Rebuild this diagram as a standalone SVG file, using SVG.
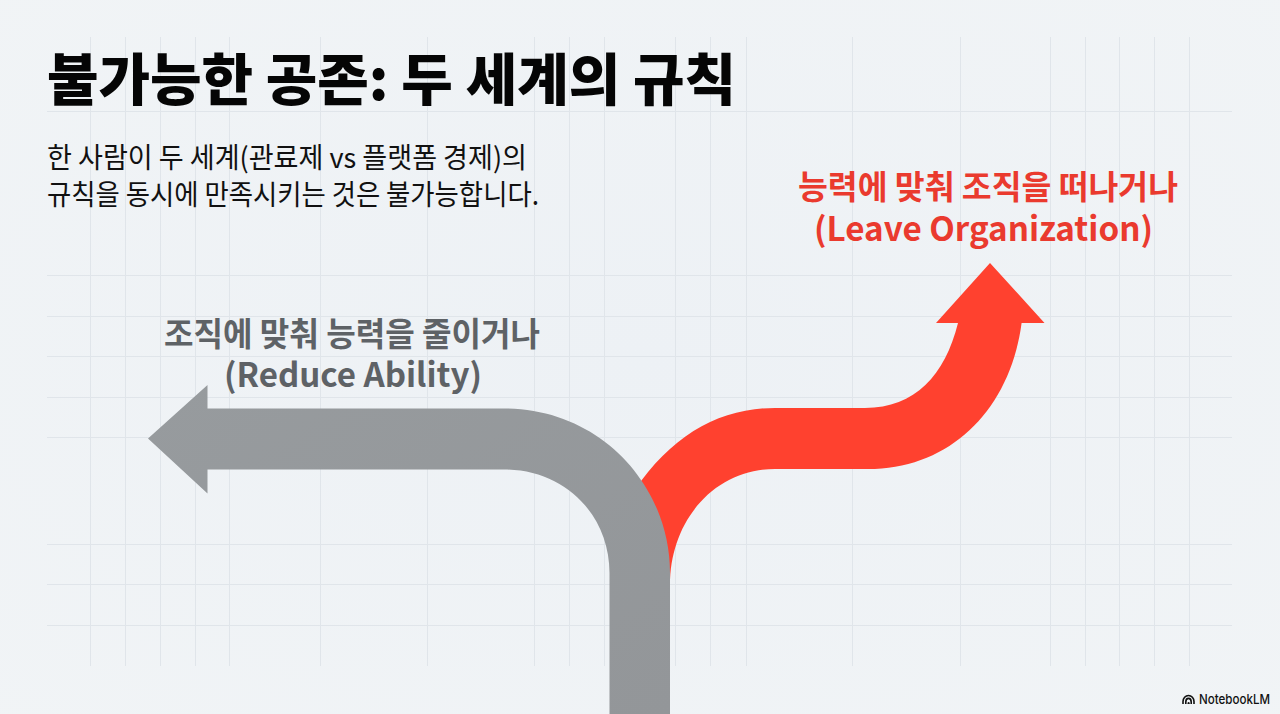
<svg xmlns="http://www.w3.org/2000/svg" width="1280" height="714" viewBox="0 0 1280 714">
<style>
.k{font-family:"Noto Sans CJK KR","Noto Sans",sans-serif}
.t{font-size:56px;font-weight:900;fill:#050505}
.s{font-size:28px;font-weight:400;fill:#111}
.l{font-size:33px;font-weight:700;text-anchor:middle}
.g{stroke:#e0e5ea;stroke-width:1;fill:none}
</style>
<defs>
<radialGradient id="bg" cx="50%" cy="50%" r="75%"><stop offset="0" stop-color="#edf1f5"/><stop offset="1" stop-color="#f1f4f6"/></radialGradient>
<linearGradient id="gr" x1="0" y1="0" x2="1" y2="1"><stop offset="0" stop-color="#979b9e"/><stop offset="1" stop-color="#939699"/></linearGradient>
</defs>
<rect width="1280" height="714" fill="url(#bg)"/>
<g id="grid" class="g">
<path d="M47 111.500H1232M47 275.500H1232M47 316.500H1232M47 356.500H1232M47 397.500H1232M47 437.500H1232M47 544.500H1232M47 584.500H1232M47 625.500H1232"/>
<path d="M90.500 37V666M125.500 37V666M160.500 37V666M195.500 37V666M229.500 37V666M320.500 37V666M427.500 37V666M534.500 37V666M569.500 37V666M604.500 37V666M675.500 37V666M710.500 37V666M746.500 37V666M852.500 37V666M960.500 37V666M1050.500 37V666M1085.500 37V666M1119.500 37V666M1154.500 37V666M1189.500 37V666"/>
</g>
<g id="connectors">
<path id="arrow-leave" fill="#ff412f" d="M670 585C670 520 715 469 775 469L868 469C950 469 1010 410 1021.600 323L1044.500 323L990 263L936 323L958 323C945 375 915 408 865 408L775 408C720 408 672 435 635 490L640 570Z"/>
<path id="arrow-reduce" fill="url(#gr)" d="M609.500 714V573C609.500 515 565 469.500 504 469.500L207.500 469.500V493.500L148 438.500L207.500 385V408.500L504 408.500C600 408.500 670 485 670 573V714Z"/>
</g>
<g id="title"><text class="k t" x="47" y="100" textLength="689" lengthAdjust="spacingAndGlyphs">불가능한 공존: 두 세계의 규칙</text></g>
<g id="subtitle">
<text class="k s" x="47" y="168" textLength="480" lengthAdjust="spacingAndGlyphs">한 사람이 두 세계(관료제 vs 플랫폼 경제)의</text>
<text class="k s" x="47" y="205" textLength="492" lengthAdjust="spacingAndGlyphs">규칙을 동시에 만족시키는 것은 불가능합니다.</text>
</g>
<g id="label-reduce" fill="#5e6266">
<text class="k l" x="352" y="346" textLength="376" lengthAdjust="spacingAndGlyphs">조직에 맞춰 능력을 줄이거나</text>
<text class="k l" x="353" y="387" textLength="258" lengthAdjust="spacingAndGlyphs">(Reduce Ability)</text>
</g>
<g id="label-leave" fill="#ea3a2e">
<text class="k l" x="988" y="199" textLength="380" lengthAdjust="spacingAndGlyphs">능력에 맞춰 조직을 떠나거나</text>
<text class="k l" x="983.500" y="241" textLength="339" lengthAdjust="spacingAndGlyphs">(Leave Organization)</text>
</g>
<g id="logo">
<path d="M1183 704V701.500A5.500 6 0 0 1 1194 701.500V704M1185.800 704V702A2.700 3.600 0 0 1 1191.200 702V704M1188.300 704V703A.4 .8 0 0 1 1188.900 703V704" fill="none" stroke="#111" stroke-width="1.600"/>
<text x="1199" y="704" font-family="Inter,'Liberation Sans',sans-serif" font-size="13.500" font-weight="500" fill="#111" textLength="71" lengthAdjust="spacingAndGlyphs">NotebookLM</text>
</g>
</svg>
